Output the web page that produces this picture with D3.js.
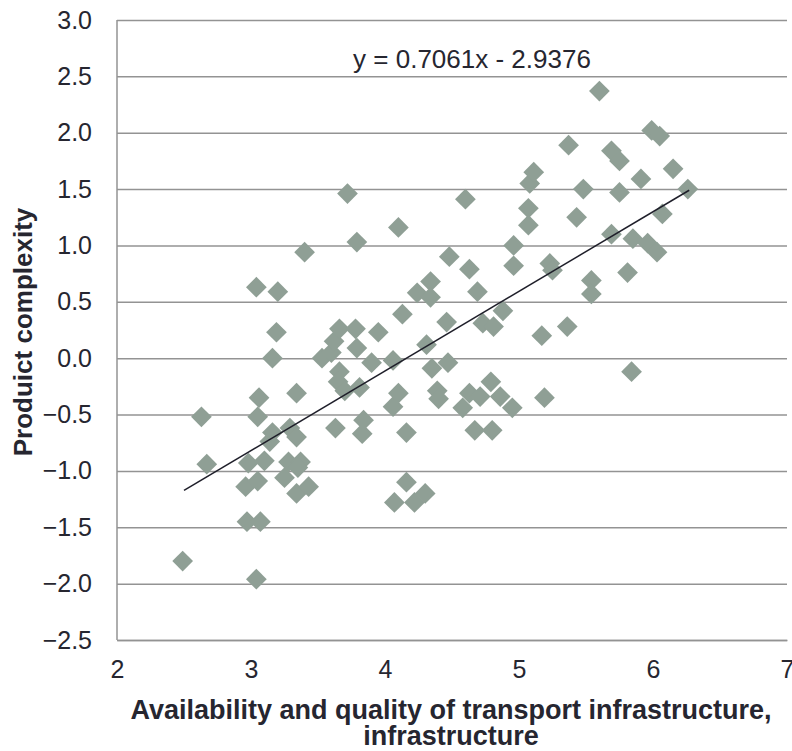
<!DOCTYPE html>
<html>
<head>
<meta charset="utf-8">
<script src="https://cdn.jsdelivr.net/npm/d3@7"></script>
<style>
  body { margin: 0; background: #fff; }
  text { font-family: "Liberation Sans", Arial, sans-serif; fill: #262630; }
</style>
</head>
<body>
<svg id="chart" width="792" height="751"></svg>
<script>
// transport infrastructure score (x) vs product complexity (y)
const transport = [
  2.49, 2.63, 2.67, 2.96, 2.97, 3.07, 3.04, 2.98, 3.05, 3.04,
  3.20, 3.06, 3.05, 3.10, 3.14, 3.16, 3.16, 3.19, 3.25, 3.28,
  3.29, 3.34, 3.34, 3.37, 3.35, 3.34, 3.40, 3.43, 3.53, 3.60,
  3.62, 3.66, 3.63, 3.66, 3.65, 3.70, 3.72, 3.78, 3.79, 3.79,
  3.81, 3.84, 3.83, 3.90, 3.95, 4.06, 4.06, 4.10, 4.10, 4.07,
  4.16, 4.16, 4.13, 4.22, 4.30, 4.24, 4.34, 4.34, 4.31, 4.35,
  4.39, 4.40, 4.46, 4.47, 4.48, 4.60, 4.58, 4.63, 4.63, 4.67,
  4.69, 4.71, 4.73, 4.79, 4.80, 4.81, 4.86, 4.88, 4.95, 4.96,
  4.96, 5.07, 5.07, 5.08, 5.11, 5.17, 5.19, 5.23, 5.25, 5.36,
  5.37, 5.43, 5.48, 5.54, 5.54, 5.60, 5.69, 5.75, 5.69, 5.75,
  5.81, 5.84, 5.85, 5.91, 5.96, 5.99, 6.03, 6.05, 6.07, 6.15,
  6.26
];
const complexity = [
  -1.80, -0.52, -0.94, -1.14, -1.45, -1.45, -1.96, -0.93, -1.09, 0.63,
  0.59, -0.35, -0.52, -0.91, -0.74, -0.66, 0.00, 0.23, -1.06, -0.92,
  -0.62, -0.31, -0.70, -0.92, -0.97, -1.20, 0.94, -1.14, 0.00, 0.05,
  0.15, 0.26, -0.62, -0.12, -0.21, -0.29, 1.46, 0.26, 1.03, 0.09,
  -0.26, -0.55, -0.67, -0.04, 0.23, -0.02, -0.43, -0.31, 1.16, -1.28,
  -0.66, -1.10, 0.39, -1.28, -1.20, 0.58, 0.68, 0.54, 0.12, -0.09,
  -0.29, -0.36, 0.32, -0.04, 0.90, 1.41, -0.44, 0.79, -0.31, -0.64,
  0.59, -0.34, 0.31, -0.21, -0.64, 0.28, -0.34, 0.42, -0.44, 1.00,
  0.82, 1.33, 1.18, 1.55, 1.65, 0.20, -0.35, 0.84, 0.78, 0.28,
  1.89, 1.25, 1.50, 0.69, 0.57, 2.37, 1.84, 1.75, 1.10, 1.47,
  0.76, -0.12, 1.06, 1.59, 1.02, 2.02, 0.94, 1.97, 1.28, 1.68,
  1.50
];
const xTicks = [2, 3, 4, 5, 6, 7];
const yTicks = [-2.5, -2.0, -1.5, -1.0, -0.5, 0.0, 0.5, 1.0, 1.5, 2.0, 2.5, 3.0];
const slope = 0.7061;
const intercept = -2.9376;
const trendRange = [2.5, 6.27];

const svg = d3.select("#chart");
const margin = { top: 20, right: 5, bottom: 111, left: 117 };
const width = 792 - margin.left - margin.right;
const height = 751 - margin.top - margin.bottom;

const chart = svg.append("g")
  .attr("transform", `translate(${margin.left}, ${margin.top})`);

const x = d3.scaleLinear().domain([2, 7]).range([0, width]);
const y = d3.scaleLinear().domain([-2.5, 3]).range([height, 0]);

// horizontal gridlines + y labels
const yAxis = chart.append("g")
  .call(d3.axisLeft(y).tickValues(yTicks).tickSize(-width).tickPadding(25)
    .tickFormat(d3.format(".1f")));
yAxis.select(".domain").remove();
yAxis.selectAll("line").attr("stroke", "#939393").attr("stroke-width", 1.5);
yAxis.selectAll("text").style("font-size", "25px").attr("fill", "#262630");

// left axis line
chart.append("line")
  .attr("x1", 0).attr("x2", 0).attr("y1", 0).attr("y2", height)
  .attr("stroke", "#939393").attr("stroke-width", 1.5);

const xAxis = chart.append("g")
  .attr("transform", `translate(0, ${height})`)
  .call(d3.axisBottom(x).tickValues(xTicks).tickSize(0).tickPadding(20)
    .tickFormat(d3.format("d")));
xAxis.select(".domain").attr("stroke", "#939393").attr("stroke-width", 1.5);
xAxis.selectAll("text").style("font-size", "25px").attr("fill", "#262630");

// points
const points = transport.map((v, i) => ({ x: v, y: complexity[i] }));
const diamond = d3.symbol().type(d3.symbolSquare).size(215);
chart.selectAll("path.pt")
  .data(points)
  .enter()
  .append("path")
  .attr("class", "pt")
  .attr("d", diamond)
  .attr("transform", d => `translate(${x(d.x)}, ${y(d.y)}) rotate(45)`)
  .attr("fill", "#8f9f95");

// trend line
const trend = trendRange.map(v => ({ x: v, y: slope * v + intercept }));
chart.append("path")
  .datum(trend)
  .attr("fill", "none")
  .attr("stroke", "#1f1f2a")
  .attr("stroke-width", 1.5)
  .attr("d", d3.line().x(d => x(d.x)).y(d => y(d.y)));

chart.append("text")
  .attr("x", 355)
  .attr("y", 48)
  .attr("text-anchor", "middle")
  .style("font-size", "26px")
  .text("y = 0.7061x - 2.9376");

// axis titles
const xTitle = svg.append("text")
  .attr("text-anchor", "middle")
  .style("font-size", "27px")
  .style("font-weight", "bold");
xTitle.append("tspan").attr("x", 451).attr("y", 719)
  .text("Availability and quality of transport infrastructure,");
xTitle.append("tspan").attr("x", 451).attr("y", 745)
  .text("infrastructure");

svg.append("text")
  .attr("transform", "translate(32, 332) rotate(-90)")
  .attr("text-anchor", "middle")
  .style("font-size", "26px")
  .style("font-weight", "bold")
  .text("Produict complexity");
</script>
</body>
</html>
